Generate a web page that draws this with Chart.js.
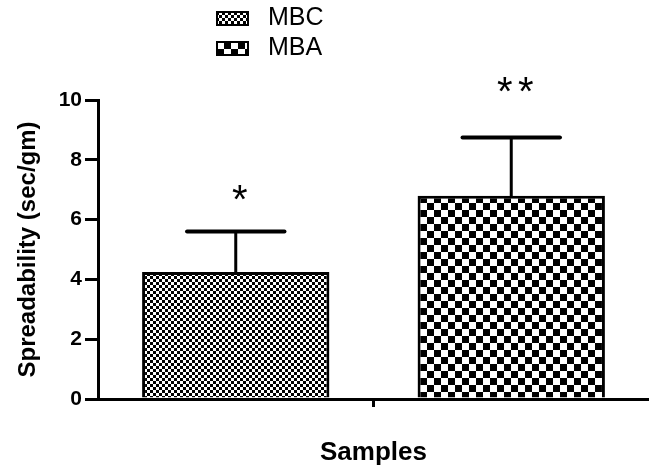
<!DOCTYPE html>
<html>
<head>
<meta charset="utf-8">
<script src="https://cdn.jsdelivr.net/npm/chart.js@4/dist/chart.umd.min.js"></script>
<style>
  html, body { margin: 0; padding: 0; background: #fff; }
  #wrap { width: 649px; height: 470px; }
</style>
</head>
<body>
<div id="wrap"><canvas id="spreadChart"></canvas></div>
<script>
const categories = ["MBC", "MBA"];
const means = [4.25, 6.8];
const errors = [1.35, 1.95];
const significance = ["*", "**"];
const significanceAt = [7.0, 10.6];
const yTicks = [0, 2, 4, 6, 8, 10];

const FONT = "'Liberation Sans', Arial, sans-serif";

// checkerboard fill, cell = size of one square in px
function checker(cell) {
    const c = document.createElement("canvas");
    c.width = cell * 2;
    c.height = cell * 2;
    const g = c.getContext("2d");
    g.fillStyle = "#fff";
    g.fillRect(0, 0, c.width, c.height);
    g.fillStyle = "#000";
    g.fillRect(0, 0, cell, cell);
    g.fillRect(cell, cell, cell, cell);
    return g.createPattern(c, "repeat");
}
const patterns = [checker(3), checker(7)];

const datasets = categories.map((name, i) => ({
    label: name,
    data: categories.map((_, j) => (j === i ? means[i] : null)),
    backgroundColor: patterns[i],
    borderColor: "#000",
    borderWidth: 3,
    borderSkipped: "start",
    grouped: false,
    barPercentage: 0.68,
    categoryPercentage: 1.0
}));

// error bars + stars above each bar
const errorBars = {
    id: "errorBars",
    afterDatasetsDraw(chart) {
        const ctx = chart.ctx;
        const y = chart.scales.y;
        ctx.save();
        chart.data.datasets.forEach((ds, i) => {
            const meta = chart.getDatasetMeta(i);
            const bar = meta.data[i];
            if (!bar) return;
            const top = y.getPixelForValue(means[i] + errors[i]);
            const half = bar.width * 0.26;
            ctx.strokeStyle = "#000";
            ctx.lineCap = "round";
            ctx.lineWidth = 3;
            ctx.beginPath();
            ctx.moveTo(bar.x, bar.y);
            ctx.lineTo(bar.x, top);
            ctx.stroke();
            ctx.lineWidth = 4;
            ctx.beginPath();
            ctx.moveTo(bar.x - half, top);
            ctx.lineTo(bar.x + half, top);
            ctx.stroke();

            // significance marks
            const size = 40;
            const cy = y.getPixelForValue(significanceAt[i]);
            const n = significance[i].length;
            const step = 21;
            ctx.fillStyle = "#000";
            ctx.font = size + "px " + FONT;
            ctx.textAlign = "center";
            ctx.textBaseline = "alphabetic";
            for (let k = 0; k < n; k++) {
                const sx = bar.x + 4 - (n - 1) * step / 2 + k * step;
                ctx.fillText("*", sx, cy + size * 0.58);
            }
        });
        ctx.restore();
    }
};

// stacked legend above the plot
const stackedLegend = {
    id: "stackedLegend",
    afterDraw(chart) {
        const ctx = chart.ctx;
        ctx.save();
        chart.data.datasets.forEach((ds, i) => {
            const cy = 18 + i * 30;
            ctx.fillStyle = ds.backgroundColor;
            ctx.fillRect(217, cy - 6, 31, 13);
            ctx.strokeStyle = "#000";
            ctx.lineWidth = 2;
            ctx.strokeRect(217, cy - 6, 31, 13);
            ctx.fillStyle = "#000";
            ctx.font = "25px " + FONT;
            ctx.textAlign = "left";
            ctx.textBaseline = "middle";
            ctx.fillText(ds.label, 268, cy);
        });
        ctx.restore();
    }
};

new Chart(document.getElementById("spreadChart"), {
    type: "bar",
    data: { labels: categories, datasets: datasets },
    plugins: [errorBars, stackedLegend],
    options: {
        responsive: true,
        maintainAspectRatio: false,
        animation: false,
        layout: { padding: { top: 100, right: 0, bottom: 0, left: 0 } },
        plugins: {
            legend: { display: false },
            tooltip: { enabled: false }
        },
        scales: {
            x: {
                offset: true,
                afterFit: s => { s.height = 71; },
                border: { display: true, color: "#000", width: 3 },
                grid: {
                    offset: true,
                    drawOnChartArea: false,
                    drawTicks: true,
                    tickLength: 8,
                    lineWidth: 3,
                    color: c => (c.index === 1 ? "#000" : "rgba(0,0,0,0)")
                },
                ticks: { display: false },
                title: {
                    display: true,
                    text: "Samples",
                    color: "#000",
                    font: { family: FONT, size: 26, weight: "bold" },
                    padding: { top: 0, bottom: 2 }
                }
            },
            y: {
                min: 0,
                max: 10,
                afterFit: s => { s.width = 98; },
                afterBuildTicks: s => { s.ticks = yTicks.map(v => ({ value: v })); },
                border: { display: true, color: "#000", width: 3 },
                grid: {
                    drawOnChartArea: false,
                    drawTicks: true,
                    tickLength: 13,
                    lineWidth: 3,
                    color: "#000"
                },
                ticks: {
                    color: "#000",
                    padding: 3,
                    font: { family: FONT, size: 21, weight: "bold" }
                },
                title: {
                    display: true,
                    text: "Spreadability (sec/gm)",
                    color: "#000",
                    font: { family: FONT, size: 24, weight: "bold" },
                    padding: { top: 14, bottom: 0 }
                }
            }
        }
    }
});
</script>
</body>
</html>
